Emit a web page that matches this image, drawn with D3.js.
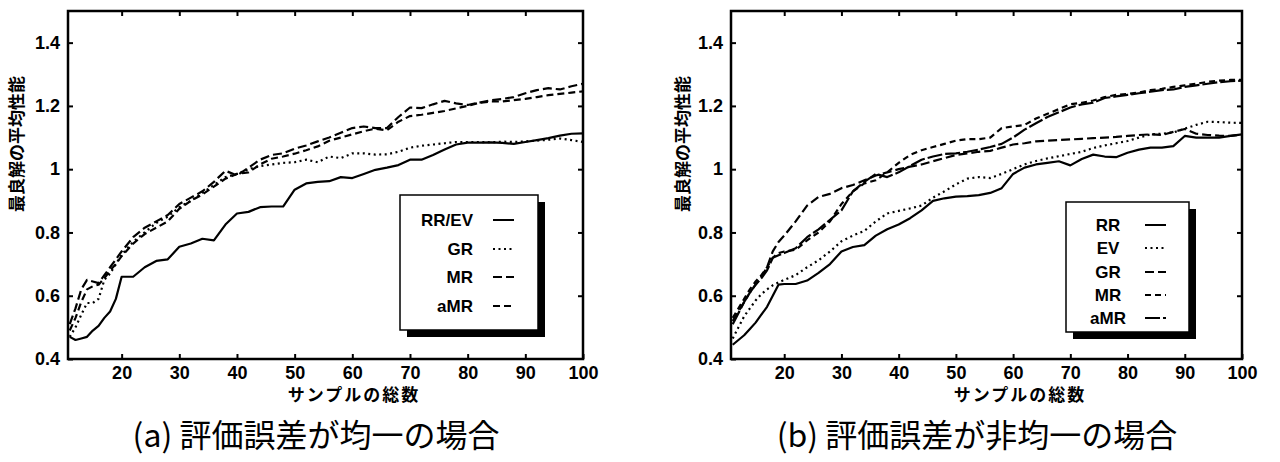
<!DOCTYPE html>
<html>
<head>
<meta charset="utf-8">
<script src="https://cdn.jsdelivr.net/npm/d3@7"></script>
<style>
  body { margin: 0; background: #fff; }
  svg { display: block; }
  .tick text { font-family: "Liberation Sans", Arial, sans-serif; font-weight: bold; font-size: 18px; fill: #000; }
  .leg { font-family: "Liberation Sans", Arial, sans-serif; font-weight: bold; font-size: 17px; }
  .jp { font-family: "Noto Sans CJK JP", sans-serif; }
</style>
</head>
<body>
<div id="chart"></div>
<script>
// sample counts shared by both panels
var samples = [11,12,13,14,15,16,17,18,19,20,22,24,26,28,30,32,34,36,38,40,42,44,46,48,50,52,54,56,58,60,62,64,66,68,70,72,74,76,78,80,82,84,86,88,90,92,94,96,98,100];

// (a) uniform evaluation error
var aRREV = [0.47,0.46,0.465,0.47,0.49,0.505,0.53,0.55,0.59,0.66,0.66,0.69,0.71,0.715,0.755,0.765,0.78,0.775,0.825,0.86,0.865,0.88,0.882,0.882,0.935,0.955,0.96,0.962,0.975,0.972,0.985,0.998,1.005,1.013,1.03,1.03,1.045,1.062,1.078,1.084,1.084,1.085,1.083,1.08,1.086,1.092,1.098,1.106,1.112,1.113];
var aGR   = [0.47,0.50,0.54,0.577,0.577,0.59,0.65,0.67,0.70,0.73,0.77,0.80,0.83,0.85,0.88,0.90,0.925,0.95,0.975,0.985,1.0,1.01,1.015,1.02,1.022,1.03,1.022,1.04,1.035,1.05,1.05,1.046,1.047,1.055,1.068,1.074,1.078,1.082,1.086,1.086,1.086,1.085,1.087,1.086,1.088,1.09,1.093,1.097,1.092,1.086];
var aMR   = [0.51,0.56,0.62,0.65,0.645,0.64,0.665,0.69,0.715,0.74,0.785,0.815,0.835,0.855,0.89,0.91,0.93,0.96,0.995,0.98,1.005,1.03,1.045,1.05,1.065,1.075,1.088,1.1,1.115,1.13,1.135,1.13,1.13,1.165,1.195,1.193,1.205,1.216,1.208,1.203,1.21,1.218,1.222,1.228,1.24,1.25,1.256,1.252,1.262,1.27];
var aAMR  = [0.49,0.53,0.58,0.62,0.63,0.635,0.655,0.68,0.70,0.725,0.765,0.795,0.815,0.835,0.875,0.90,0.92,0.945,0.97,0.985,0.99,1.015,1.033,1.04,1.049,1.06,1.072,1.09,1.1,1.11,1.12,1.128,1.123,1.15,1.168,1.172,1.178,1.184,1.192,1.2,1.21,1.214,1.214,1.218,1.222,1.228,1.234,1.238,1.242,1.246];

// (b) non-uniform evaluation error
var bRR  = [0.445,0.46,0.475,0.495,0.515,0.54,0.565,0.6,0.635,0.637,0.637,0.648,0.672,0.70,0.74,0.754,0.76,0.79,0.81,0.825,0.845,0.87,0.9,0.908,0.913,0.915,0.918,0.925,0.94,0.985,1.005,1.015,1.02,1.025,1.012,1.032,1.046,1.04,1.038,1.052,1.062,1.068,1.068,1.073,1.105,1.1,1.1,1.1,1.105,1.11];
var bEV  = [0.465,0.5,0.535,0.56,0.585,0.605,0.62,0.633,0.642,0.65,0.665,0.69,0.712,0.74,0.772,0.79,0.805,0.835,0.86,0.868,0.876,0.885,0.91,0.93,0.952,0.97,0.975,0.972,0.985,1.0,1.015,1.026,1.034,1.041,1.048,1.055,1.067,1.075,1.082,1.089,1.1,1.11,1.112,1.116,1.128,1.14,1.15,1.149,1.147,1.146];
var bGR  = [0.52,0.55,0.58,0.61,0.635,0.66,0.69,0.74,0.77,0.79,0.835,0.885,0.912,0.922,0.94,0.95,0.965,0.98,0.99,1.0,1.008,1.015,1.025,1.035,1.045,1.05,1.055,1.058,1.068,1.078,1.082,1.088,1.09,1.092,1.094,1.096,1.098,1.1,1.102,1.105,1.108,1.11,1.108,1.118,1.127,1.112,1.108,1.106,1.105,1.11];
var bMR  = [0.53,0.56,0.59,0.62,0.645,0.665,0.69,0.72,0.735,0.74,0.745,0.775,0.80,0.835,0.89,0.93,0.955,0.965,0.99,1.02,1.045,1.06,1.07,1.08,1.09,1.095,1.095,1.1,1.13,1.135,1.14,1.16,1.175,1.19,1.205,1.21,1.217,1.228,1.235,1.238,1.242,1.25,1.254,1.26,1.265,1.27,1.276,1.28,1.282,1.282];
var bAMR = [0.51,0.545,0.58,0.61,0.635,0.655,0.68,0.72,0.728,0.735,0.75,0.785,0.81,0.84,0.87,0.93,0.96,0.985,0.975,0.99,1.01,1.03,1.04,1.048,1.05,1.055,1.062,1.07,1.08,1.1,1.125,1.145,1.165,1.18,1.195,1.205,1.21,1.225,1.23,1.235,1.24,1.245,1.25,1.252,1.26,1.265,1.27,1.275,1.278,1.28];

var xTickVals = [20,30,40,50,60,70,80,90,100];
var yTickVals = [0.4,0.6,0.8,1.0,1.2,1.4];
var yLabel = "最良解の平均性能";
var xLabel = "サンプルの総数";

var panels = [
  {left: 68, right: 583, caption: "(a) 評価誤差が均一の場合", capX: 316, titleX: 354, ylabX: 17,
   legend: {x: 400, y: 195, w: 138, h: 135, textX: 473, anchor: "end", lineX: 493, rows: [220, 249, 277, 306]},
   series: [
     {name: "RR/EV", values: aRREV, dash: null},
     {name: "GR", values: aGR, dash: "2,3.5"},
     {name: "MR", values: aMR, dash: "9,4"},
     {name: "aMR", values: aAMR, dash: "7,4"}
   ]},
  {left: 731, right: 1242, caption: "(b) 評価誤差が非均一の場合", capX: 977, titleX: 1020, ylabX: 683,
   legend: {x: 1066, y: 202, w: 123, h: 130, textX: 1108, anchor: "middle", lineX: 1145, rows: [225, 248, 272, 295, 318]},
   series: [
     {name: "RR", values: bRR, dash: null},
     {name: "EV", values: bEV, dash: "2,3.5"},
     {name: "GR", values: bGR, dash: "9,4"},
     {name: "MR", values: bMR, dash: "6,4"},
     {name: "aMR", values: bAMR, dash: "15,3"}
   ]}
];

var svg = d3.select("#chart").append("svg").attr("width", 1280).attr("height", 462);
var plotTop = 11, plotBottom = 359;

panels.forEach(function(p) {
  var x = d3.scaleLinear().domain([10.7, 100]).range([p.left, p.right]);
  var y = d3.scaleLinear().domain([0.4, 1.5]).range([plotBottom, plotTop]);
  var g = svg.append("g");

  var line = d3.line().x((d, i) => x(samples[i])).y(d => y(d));
  p.series.forEach(function(s) {
    g.append("path").datum(s.values).attr("d", line)
      .attr("fill", "none").attr("stroke", "#000").attr("stroke-width", 2.2)
      .attr("stroke-linejoin", "round")
      .attr("stroke-dasharray", s.dash);
  });

  // axes with inward ticks
  var fmt = d => d3.format("~g")(d);
  g.append("g").attr("transform", `translate(0,${plotBottom})`)
    .call(d3.axisBottom(x).tickValues(xTickVals).tickSizeInner(-5).tickSizeOuter(0).tickPadding(7));
  g.append("g").attr("transform", `translate(0,${plotTop})`)
    .call(d3.axisTop(x).tickValues(xTickVals.slice(0, -1)).tickSizeInner(-5).tickSizeOuter(0).tickFormat(""));
  g.append("g").attr("transform", `translate(${p.left},0)`)
    .call(d3.axisLeft(y).tickValues(yTickVals).tickSizeInner(-5).tickSizeOuter(0).tickPadding(8).tickFormat(fmt));
  g.append("g").attr("transform", `translate(${p.right},0)`)
    .call(d3.axisRight(y).tickValues(yTickVals.slice(1)).tickSizeInner(-5).tickSizeOuter(0).tickFormat(""));
  g.selectAll(".domain").remove();
  g.selectAll(".tick line").attr("stroke", "#000").attr("stroke-width", 2);

  g.append("rect").attr("x", p.left).attr("y", plotTop).attr("width", p.right - p.left).attr("height", plotBottom - plotTop)
    .attr("fill", "none").attr("stroke", "#000").attr("stroke-width", 2.5);

  // legend with drop shadow
  var L = p.legend;
  g.append("rect").attr("x", L.x + 7).attr("y", L.y + 7).attr("width", L.w).attr("height", L.h).attr("fill", "#000");
  g.append("rect").attr("x", L.x).attr("y", L.y).attr("width", L.w).attr("height", L.h)
    .attr("fill", "#fff").attr("stroke", "#000").attr("stroke-width", 1.5);
  p.series.forEach(function(s, i) {
    g.append("text").attr("class", "leg").attr("x", L.textX).attr("y", L.rows[i]).attr("dy", "0.35em")
      .attr("text-anchor", L.anchor).text(s.name);
    g.append("line").attr("x1", L.lineX).attr("x2", L.lineX + 21).attr("y1", L.rows[i]).attr("y2", L.rows[i])
      .attr("stroke", "#000").attr("stroke-width", 2).attr("stroke-dasharray", s.dash);
  });

  g.append("text").attr("class", "jp").attr("transform", `translate(${p.ylabX},144) rotate(-90)`)
    .attr("text-anchor", "middle").attr("dy", "0.35em").attr("font-size", 17).attr("font-weight", "bold").text(yLabel);
  g.append("text").attr("class", "jp").attr("x", p.titleX).attr("y", 395).attr("dy", "0.35em")
    .attr("text-anchor", "middle").attr("font-size", 17).attr("font-weight", "bold").attr("letter-spacing", 2).text(xLabel);
  g.append("text").attr("class", "jp").attr("x", p.capX).attr("y", 436).attr("dy", "0.35em")
    .attr("text-anchor", "middle").attr("font-size", 32).text(p.caption);
});
</script>
</body>
</html>
